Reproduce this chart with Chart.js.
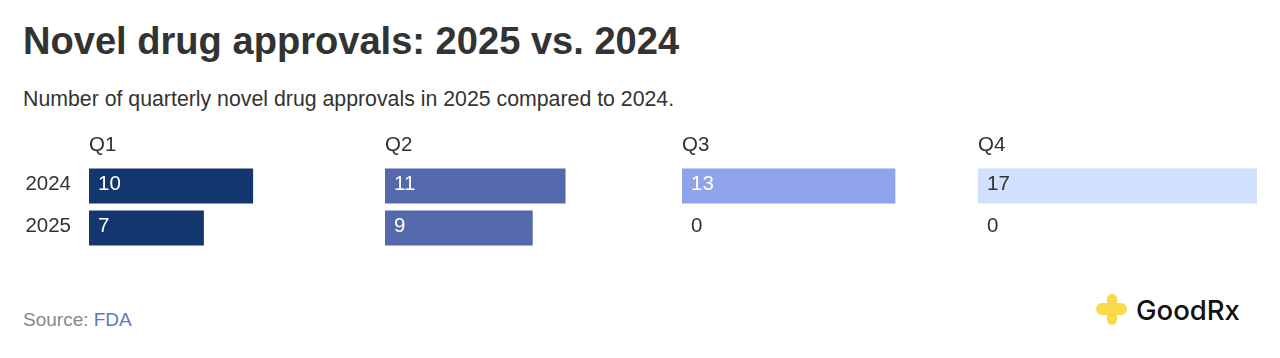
<!DOCTYPE html>
<html>
<head>
<meta charset="utf-8">
<script src="https://cdn.jsdelivr.net/npm/chart.js@4"></script>
<style>
  html, body { margin: 0; padding: 0; background: #fff; }
  body { width: 1280px; height: 358px; position: relative; overflow: hidden; font-family: "Liberation Sans", Arial, sans-serif; color: #333; }
  h1 { position: absolute; left: 23px; top: 18px; margin: 0; font-size: 38.1px; line-height: 46px; font-weight: 700; color: #333; white-space: nowrap; }
  p { position: absolute; left: 23px; top: 86px; margin: 0; font-size: 21.3px; line-height: 26px; color: #333; white-space: nowrap; }
  .panel { position: absolute; top: 125px; width: 345px; height: 130px; }
  .source { position: absolute; left: 23px; top: 309px; font-size: 19px; line-height: 22px; color: #888; }
  .source a { color: #5b78c0; text-decoration: none; }
  .logo { position: absolute; left: 1095px; top: 293px; }
</style>
</head>
<body>
<h1>Novel drug approvals: 2025 vs. 2024</h1>
<p>Number of quarterly novel drug approvals in 2025 compared to 2024.</p>
<div class="panel" style="left:23px"><canvas id="q1"></canvas></div>
<div class="panel" style="left:319px"><canvas id="q2"></canvas></div>
<div class="panel" style="left:616px"><canvas id="q3"></canvas></div>
<div class="panel" style="left:912px"><canvas id="q4"></canvas></div>
<div class="source">Source: <a href="#">FDA</a></div>
<svg class="logo" width="150" height="34" viewBox="0 0 150 34">
  <rect x="12" y="1" width="10" height="31" rx="5" fill="#fbd94c"/>
  <rect x="1" y="10" width="31" height="12" rx="6" fill="#fbd94c"/>
  <text x="41" y="27" font-family="Inter" font-size="27.5" font-weight="500" fill="#111">GoodRx</text>
</svg>
<script>
const years = ['2024', '2025'];
const quarters = ['Q1', 'Q2', 'Q3', 'Q4'];
const approvals2024 = [10, 11, 13, 17];
const approvals2025 = [7, 9, 0, 0];
const barColors = ['#14366f', '#5469ab', '#8fa3ea', '#d0e0fd'];
const labelColors = ['#fff', '#fff', '#fff', '#333'];

// year labels, value labels and the quarter heading, placed from the chart's scales
const panelText = {
  id: 'panelText',
  afterDatasetsDraw(chart, args, opts) {
    const { ctx, scales: { x, y } } = chart;
    ctx.save();
    ctx.font = '20.5px "Liberation Sans"';
    ctx.textBaseline = 'middle';
    ctx.textAlign = 'left';
    ctx.fillStyle = '#333';
    ctx.fillText(opts.quarter, x.left, y.top - 20);
    chart.data.datasets[0].data.forEach((v, i) => {
      const py = y.getPixelForValue(i) - 2;
      ctx.fillStyle = v === 0 ? '#333' : opts.labelColor;
      ctx.fillText(v, x.getPixelForValue(0) + 9, py);
      if (opts.showYears) {
        ctx.fillStyle = '#333';
        ctx.textAlign = 'right';
        ctx.fillText(chart.data.labels[i], x.left - 18, py);
        ctx.textAlign = 'left';
      }
    });
    ctx.restore();
  }
};

function drawPanel(id, i) {
  new Chart(document.getElementById(id), {
    type: 'bar',
    data: {
      labels: years,
      datasets: [{
        data: [approvals2024[i], approvals2025[i]],
        backgroundColor: barColors[i],
        barPercentage: 35 / 42,
        categoryPercentage: 1
      }]
    },
    options: {
      indexAxis: 'y',
      responsive: true,
      maintainAspectRatio: false,
      animation: false,
      layout: { padding: { top: 40, bottom: 6 } },
      scales: {
        x: { display: false, min: 0, max: 17 },
        y: {
          afterFit(scale) { scale.width = 66; },
          border: { display: false },
          grid: { display: false },
          ticks: { display: false }
        }
      },
      plugins: {
        legend: { display: false },
        tooltip: { enabled: false },
        panelText: { quarter: quarters[i], labelColor: labelColors[i], showYears: i === 0 }
      }
    },
    plugins: [panelText]
  });
}

['q1', 'q2', 'q3', 'q4'].forEach(drawPanel);
</script>
</body>
</html>
